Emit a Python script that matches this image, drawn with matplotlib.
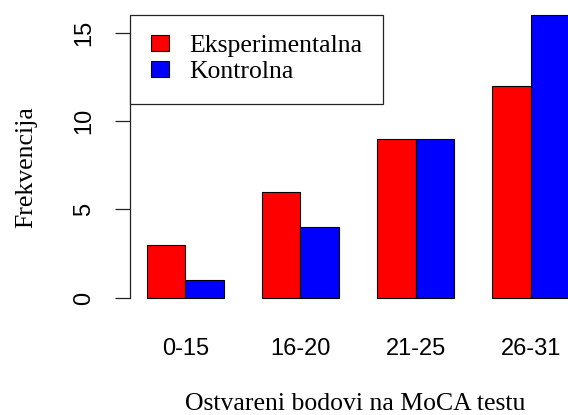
import numpy as np
import matplotlib.pyplot as plt
from matplotlib.patches import Patch

# Data (R barplot, beside=TRUE)
groups = ["0-15", "16-20", "21-25", "26-31"]
eksperimentalna = [3, 6, 9, 12]
kontrolna = [1, 4, 9, 16]
series_names = ["Eksperimentalna", "Kontrolna"]
colors = ["#ff0000", "#0000ff"]

serif = "Liberation Serif"
sans = "Liberation Sans"

W, H = 568, 415
fig = plt.figure(figsize=(W / 100, H / 100), dpi=100)

# axes placed so that the R-style plot region runs off the right edge
left_px, right_px = 130, 586
top_px, bottom_px = 3.5, 309.3
ax = fig.add_axes([left_px / W, 1 - bottom_px / H,
                   (right_px - left_px) / W, (bottom_px - top_px) / H])

# bar positions like R: width 1, space 1 between groups
starts = 1 + 3 * np.arange(len(groups))
ax.bar(starts, eksperimentalna, width=1, align="edge", color=colors[0],
       edgecolor="black", linewidth=0.8)
ax.bar(starts + 1, kontrolna, width=1, align="edge", color=colors[1],
       edgecolor="black", linewidth=0.8)

ax.set_xlim(0.56, 12.44)
ax.set_ylim(-0.64, 16.64)

for s in ["top", "right", "bottom"]:
    ax.spines[s].set_visible(False)
ax.spines["left"].set_bounds(0, 15)
ax.spines["left"].set_linewidth(0.9)
ax.spines["left"].set_color("#222222")

ax.set_yticks([0, 5, 10, 15])
ax.set_yticklabels(["0", "5", "10", "15"], rotation=90, va="center",
                   family=sans, fontsize=17)
ax.tick_params(axis="y", length=10.8, width=0.9, pad=14, color="#222222")

ax.set_xticks(starts + 1)
ax.set_xticklabels(groups, family=sans, fontsize=17)
ax.tick_params(axis="x", length=0, pad=20.5)

fig.text(355 / W, 1 - 404 / H, "Ostvareni bodovi na MoCA testu",
         family=serif, fontsize=18.5, ha="center", va="center")
fig.text(26 / W, 1 - 167 / H, "Frekvencija", family=serif, fontsize=18.5,
         rotation=90, ha="center", va="center")

handles = [Patch(facecolor=c, edgecolor="black", linewidth=0.8) for c in colors]
leg = ax.legend(handles, series_names, loc="upper left",
                bbox_to_anchor=(0.56, 16), bbox_transform=ax.transData,
                borderaxespad=0, fancybox=False, framealpha=1,
                prop={"family": serif, "size": 18.5},
                handlelength=0.7, handleheight=0.58, handletextpad=0.8,
                labelspacing=0.15, borderpad=0.8)
leg.get_frame().set_edgecolor("#222222")
leg.get_frame().set_linewidth(0.9)

fig.savefig("out.png", dpi=100)
